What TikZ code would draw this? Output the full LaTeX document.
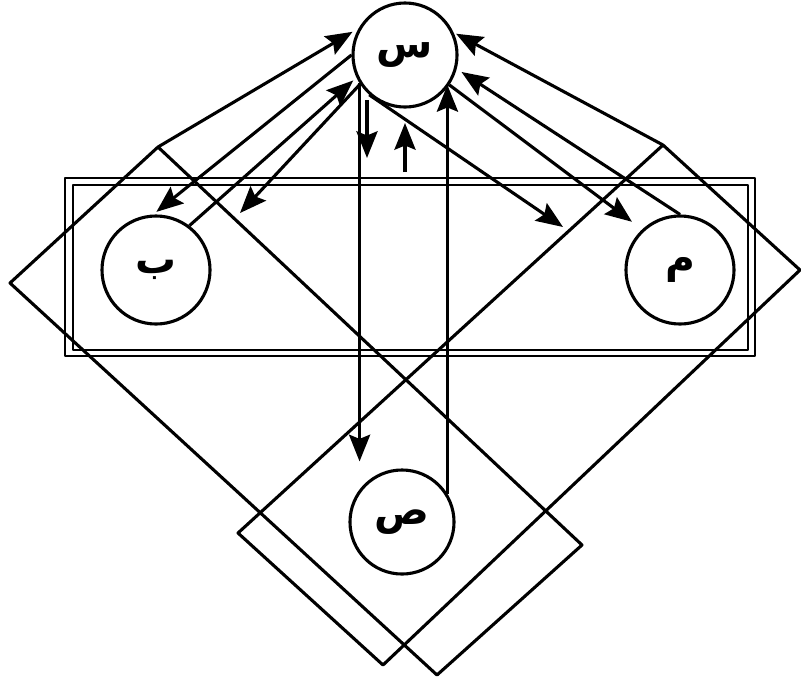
\documentclass[tikz,border=0pt]{standalone}
\usepackage{fontspec}
\newfontfamily\arabicfont[Script=Arabic]{DejaVu Sans}
\TeXXeTstate=1
\usetikzlibrary{arrows.meta}

\begin{document}
\begin{tikzpicture}[x=0.025cm, y=-0.025cm, line width=2.2pt, line join=round,
  >={Stealth[length=19pt, width=15pt, inset=3pt]},
  letter/.style={draw, circle, minimum size=2.6cm, inner sep=0pt,
    font=\arabicfont\bfseries\fontsize{29}{31}\selectfont}]
\useasboundingbox (0,0) rectangle (801,679);
% tilted rectangles
\coordinate (ltop) at (158,147);
\coordinate (rtop) at (663,145);
\draw (ltop) -- (582,545) -- (437,675) -- (10,283) -- cycle;
\draw (rtop) -- (800,270) -- (383,665) -- (238,533) -- cycle;
% double frame
\draw[line width=1.2pt] (65,178) rectangle (755,356);
\draw[line width=1.2pt] (73,185) rectangle (748,350);
% circles
\node[letter] (sin) at (405,55) {\beginR س\endR};
\node[letter, minimum size=2.7cm] (ba) at (156,270) {\beginR ب\endR};
\node[letter, minimum size=2.7cm] (mim) at (680,270) {\beginR م\endR};
\node[letter] (sad) at (402,522) {\beginR ص\endR};
\coordinate (bend) at (240,213);
\coordinate (mend) at (563,227);
\coordinate (dtop) at (367,100);
\coordinate (dbot) at (367,158);
\coordinate (utop) at (405,123);
\coordinate (ubot) at (405,172);
% arrows
\draw[->, shorten >=5pt] (ltop) -- (sin.150);
\draw[->, shorten >=3pt] (sin.180) -- (ba.93);
\draw[->, shorten >=3pt] (ba.53) -- (sin.205);
\draw[->] (sin.213) -- (bend);
\draw[->] (dtop) -- (dbot);
\draw[->] (ubot) -- (utop);
\draw[->, shorten >=5pt] (sin.212) -- (sin.212 |- sad.north);
\draw[->] (sad.32) -- (sad.32 |- sin.326);
\draw[->] (sin.228) -- (mend);
\draw[->, shorten >=9pt] (sin.326) -- (mim.133);
\draw[->, shorten >=4pt] (mim.north) -- (sin.345);
\draw[->, shorten >=2pt] (rtop) -- (sin.25);
\end{tikzpicture}
\end{document}
